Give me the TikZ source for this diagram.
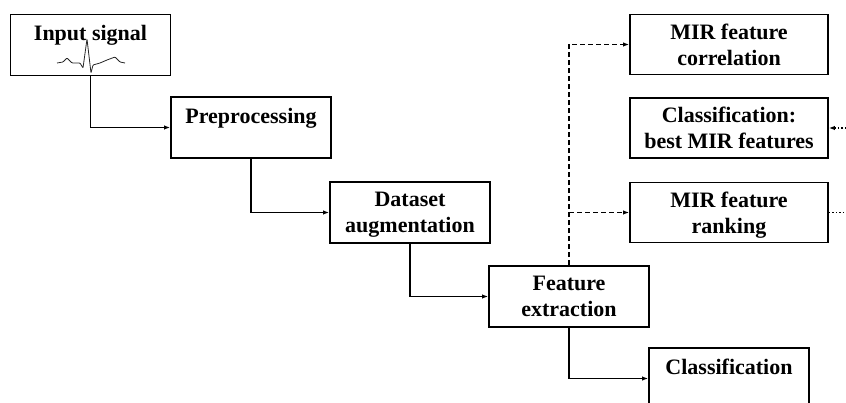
\documentclass[tikz,border=0pt]{standalone}
\usepackage{fontspec}
\setmainfont{Liberation Serif}
\usetikzlibrary{arrows.meta}

\begin{document}
\begin{tikzpicture}[x=1pt,y=-1pt,
    block/.style={draw, line width=1.8pt, minimum width=160pt, minimum height=61pt, inner sep=0pt, align=center, text depth=0pt, font=\fontsize{22}{26}\selectfont\bfseries},
    oneline/.style={block, text height=16pt, text depth=24pt},
    mirblock/.style={block, minimum width=198pt, minimum height=60pt},
    link/.style={line width=1.5pt, -{Latex[length=6pt,width=4.5pt]}},
    dashlink/.style={link, dash pattern=on 5pt off 3pt},
    dotlink/.style={line width=1.5pt, dash pattern=on 1.5pt off 2pt}
    ]
    \useasboundingbox (0,0) rectangle (846,403);
    % main chain
    \node[oneline] (input) at (90.5,45) {Input signal};
    \node[oneline] (pre) at (251,127.5) {Preprocessing};
    \node[block] (aug) at (410,212.5) {Dataset\\ augmentation};
    \node[block] (feat) at (569,296.5) {Feature\\ extraction};
    \node[oneline] (cls) at (729,378.5) {Classification};
    % MIR branch
    \node[mirblock] (corr) at (729,44.5) {MIR feature\\ correlation};
    \node[mirblock] (best) at (729,128) {Classification:\\ best MIR features};
    \node[mirblock] (rank) at (729,212.5) {MIR feature\\ ranking};
    % ECG trace
    \draw[line width=0.8pt, black!85, rounded corners=0.8pt] (57,63) -- (63,62) -- (67,58) -- (72,63) -- (80,63) -- (83,68) -- (87,39) -- (91,73) -- (93,65) -- (100,63) -- (107,60) -- (115,57) -- (120,62) -- (125,63);
    \draw[link] (input.south) |- (pre.west);
    \draw[link] (pre.south) |- (aug.west);
    \draw[link] (aug.south) |- (feat.west);
    \draw[link] (feat.south) |- (cls.west);
    \draw[dashlink] (feat.north) |- (corr.west);
    \coordinate (split) at (feat.north |- rank.west);
    \draw[dashlink] (split) -- (rank.west);
    \coordinate (bestin) at (846,128);
    \draw[dotlink, -{Latex[length=6pt,width=4.5pt]}] (bestin) -- (best.east);
    \coordinate (rankout) at (846,212.5);
    \draw[dotlink] (rank.east) -- (rankout);
\end{tikzpicture}
\end{document}
